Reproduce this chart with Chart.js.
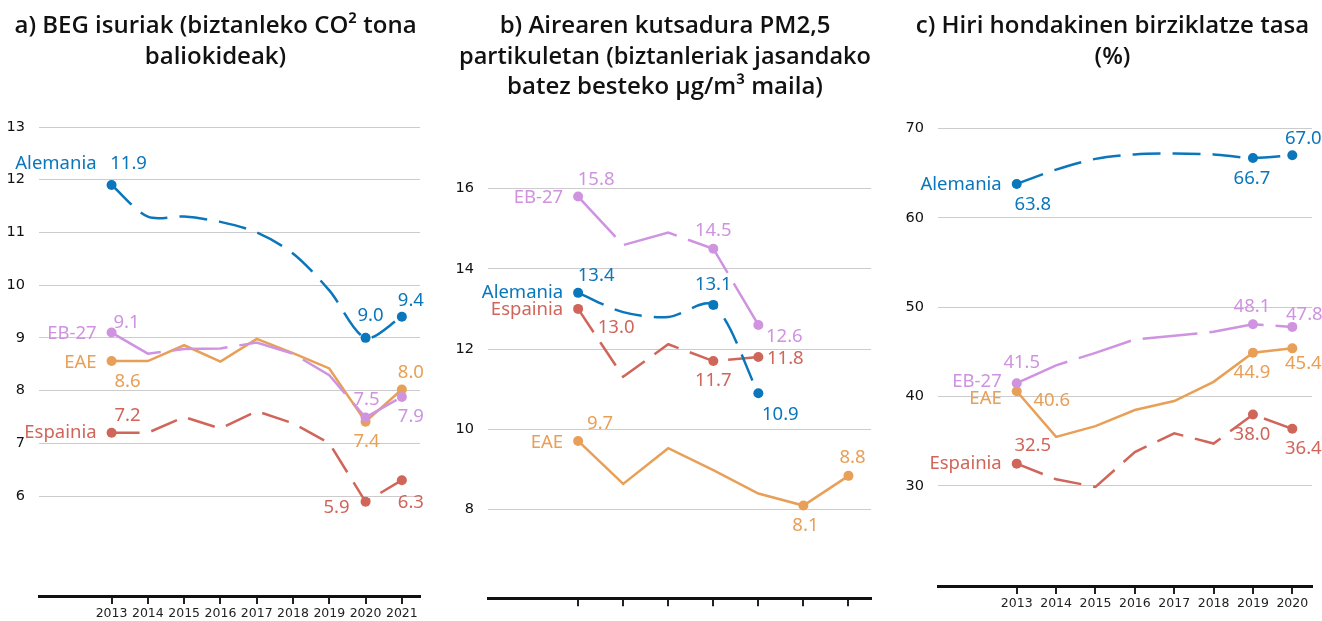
<!DOCTYPE html>
<html>
<head>
<meta charset="utf-8">
<script src="https://cdn.jsdelivr.net/npm/chart.js@4.4.1/dist/chart.umd.min.js"></script>
<style>
  body { margin: 0; background: #fff; width: 1322px; height: 621px; position: relative; overflow: hidden; }
  canvas { position: absolute; top: 0; }
</style>
</head>
<body>
<canvas id="chartA" width="440" height="621" style="left:0px"></canvas>
<canvas id="chartB" width="445" height="621" style="left:440px"></canvas>
<canvas id="chartC" width="437" height="621" style="left:885px"></canvas>
<script>
// Datuak: a) BEG isuriak
const yearsA = [2013, 2014, 2015, 2016, 2017, 2018, 2019, 2020, 2021];
const alemaniaA = [11.9, 11.3, 11.3, 11.2, 11.0, 10.6, 9.9, 9.0, 9.4];
const eb27A = [9.1, 8.7, 8.79, 8.8, 8.91, 8.7, 8.29, 7.49, 7.88];
const eaeA = [8.56, 8.56, 8.86, 8.55, 8.98, 8.71, 8.42, 7.41, 8.02];
const espainiaA = [7.2, 7.2, 7.5, 7.28, 7.61, 7.38, 7.0, 5.89, 6.3];
const yTicksA = [6, 7, 8, 9, 10, 11, 12, 13];

// b) PM2,5
const yearsB = [2013, 2014, 2015, 2016, 2017, 2018, 2019];
const alemaniaB = [13.4, 12.92, 12.8, 13.1, 10.9];
const eb27B = [15.8, 14.59, 14.9, 14.5, 12.6];
const eaeB = [9.71, 8.64, 9.53, 8.98, 8.4, 8.1, 8.84];
const espainiaB = [13.0, 11.31, 12.12, 11.7, 11.8];
const yTicksB = [8, 10, 12, 14, 16];

// c) birziklatze tasa
const yearsC = [2013, 2014, 2015, 2016, 2017, 2018, 2019, 2020];
const alemaniaC = [63.8, 65.4, 66.6, 67.1, 67.2, 67.1, 66.7, 67.0];
const eb27C = [41.5, 43.5, 44.9, 46.4, 46.8, 47.25, 48.1, 47.8];
const eaeC = [40.6, 35.5, 36.7, 38.5, 39.5, 41.65, 44.9, 45.4];
const espainiaC = [32.5, 30.75, 29.9, 33.8, 35.9, 34.75, 38.0, 36.4];
const yTicksC = [30, 40, 50, 60, 70];

const titleA = ['a) BEG isuriak (biztanleko CO² tona', 'baliokideak)'];
const titleB = ['b) Airearen kutsadura PM2,5', 'partikuletan (biztanleriak jasandako', 'batez besteko µg/m³ maila)'];
const titleC = ['c) Hiri hondakinen birziklatze tasa', '(%)'];

const colors = {
  'Alemania': '#0a76bb',
  'EB-27': '#cf93e0',
  'EAE': '#e89f57',
  'Espainia': '#d0655a'
};
const dashes = {
  'Alemania': [28, 12],
  'EB-27': [55, 12],
  'EAE': [],
  'Espainia': [28, 12]
};

// etiketen kokapena (izena: dy; balioak: lehen puntua eta azken biak [dx, dy])
const placeA = {
  'Alemania': { name: -22, val: [[17, -22], [5, -23], [9, -17]] },
  'EB-27': { name: 0, val: [[15, -11], [1, -19], [9, 19]] },
  'EAE': { name: 0, val: [[16, 19], [1, 19], [9, -18]] },
  'Espainia': { name: -1, val: [[16, -18], [-29, 5], [9, 21]] }
};
const placeB = {
  'Alemania': { name: -1, val: [[18, -18], [0, -21], [22, 20]] },
  'EB-27': { name: 0, val: [[18, -18], [0, -19], [26, 11]] },
  'EAE': { name: 1, val: [[22, -18], [2, 19], [4, -19]] },
  'Espainia': { name: 0, val: [[38, 18], [0, 18], [27, 0]] }
};
const placeC = {
  'Alemania': { name: 0, val: [[16, 20], [-1, 20], [11, -18]] },
  'EB-27': { name: -3, val: [[5, -22], [-1, -19], [12, -13]] },
  'EAE': { name: 6, val: [[35, 8], [-1, 19], [11, 14]] },
  'Espainia': { name: -1, val: [[16, -19], [-1, 19], [11, 19]] }
};

// serie-izenak eta balioak marrazteko plugina
const seriesLabels = {
  id: 'seriesLabels',
  afterLayout(chart) {
    // y ardatzeko etiketak ez moztu ardatzaren kutxan
    chart.scales.y._computeLabelArea = () => undefined;
  },
  afterDatasetsDraw(chart) {
    const ctx = chart.ctx;
    const place = chart.options.plugins.seriesLabels.place;
    chart.data.datasets.forEach((ds, i) => {
      const pts = chart.getDatasetMeta(i).data;
      const p = place[ds.label];
      const n = pts.length;
      ctx.save();
      ctx.font = '18.5px "Noto Sans"';
      ctx.fillStyle = ds.borderColor;
      ctx.textBaseline = 'alphabetic';
      ctx.textAlign = 'right';
      ctx.fillText(ds.label, pts[0].x - 15, pts[0].y + p.name + 6.5);
      ctx.textAlign = 'center';
      [0, n - 2, n - 1].forEach((k, j) => {
        const txt = ds.data[k].y.toFixed(1);
        ctx.fillText(txt, pts[k].x + p.val[j][0], pts[k].y + p.val[j][1] + 6.5);
      });
      ctx.restore();
    });
  }
};

function makeSet(label, years, values) {
  return {
    label: label,
    data: values.map((v, i) => ({ x: years[i], y: v })),
    borderColor: colors[label],
    backgroundColor: colors[label],
    borderWidth: 2.5,
    borderDash: dashes[label],
    tension: label === 'Alemania' ? 0.3 : 0,
    pointRadius: (c) => {
      const n = c.dataset.data.length;
      return (c.dataIndex === 0 || c.dataIndex >= n - 2) ? 5 : 0;
    },
    pointHoverRadius: 0,
    pointBorderWidth: 0,
    pointBackgroundColor: colors[label]
  };
}

function makeChart(id, cfg) {
  return new Chart(document.getElementById(id), {
    type: 'line',
    data: {
      datasets: [
        makeSet('Alemania', cfg.years, cfg.alemania),
        makeSet('EB-27', cfg.years, cfg.eb27),
        makeSet('EAE', cfg.years, cfg.eae),
        makeSet('Espainia', cfg.years, cfg.espainia)
      ]
    },
    options: {
      responsive: false,
      animation: false,
      layout: { padding: { left: cfg.padL, right: cfg.padR, top: 0, bottom: 0 } },
      plugins: {
        legend: { display: false },
        tooltip: { enabled: false },
        title: {
          display: true,
          text: cfg.title,
          color: '#111',
          font: { family: 'Open Sans', size: 24, weight: '600', lineHeight: 1.27 },
          padding: { top: 11, bottom: cfg.titleGap }
        },
        seriesLabels: { place: cfg.place }
      },
      scales: {
        x: {
          type: 'linear',
          min: cfg.years[0] - 2,
          max: cfg.years[cfg.years.length - 1] + 0.5,
          afterBuildTicks: (s) => { s.ticks = cfg.years.map(v => ({ value: v })); },
          afterFit: (s) => { s.height = cfg.axisH; },
          grid: { drawOnChartArea: false, drawTicks: true, tickLength: 8, color: '#222', lineWidth: 2 },
          border: { display: true, color: '#111', width: 3 },
          ticks: {
            callback: (v) => cfg.showYears ? String(v) : '',
            font: { family: 'DejaVu Sans', size: 12.5 },
            color: '#222',
            padding: 2,
            maxRotation: 0,
            autoSkip: false
          }
        },
        y: {
          min: cfg.yMin,
          max: cfg.yMax,
          afterBuildTicks: (s) => { s.ticks = cfg.yTicks.map(v => ({ value: v })); },
          afterFit: (s) => { s.width = cfg.yAxisW; },
          grid: { color: '#cccccc', lineWidth: 1, drawTicks: false },
          border: { display: false },
          ticks: { font: { family: 'DejaVu Sans', size: 14.5 }, color: '#111', padding: 14 }
        }
      }
    },
    plugins: [seriesLabels]
  });
}

makeChart('chartA', {
  years: yearsA, alemania: alemaniaA, eb27: eb27A, eae: eaeA, espainia: espainiaA,
  yTicks: yTicksA, yMin: 4.103, yMax: 13, title: titleA, titleGap: 55.04,
  padL: 11, padR: 20, yAxisW: 28, axisH: 25, showYears: true, place: placeA
});
makeChart('chartB', {
  years: yearsB, alemania: alemaniaB, eb27: eb27B, eae: eaeB, espainia: espainiaB,
  yTicks: yTicksB, yMin: 5.789, yMax: 16, title: titleB, titleGap: 86.06,
  padL: 19, padR: 14, yAxisW: 29, axisH: 10, showYears: false, place: placeB
});
makeChart('chartC', {
  years: yearsC, alemania: alemaniaC, eb27: eb27C, eae: eaeC, espainia: espainiaC,
  yTicks: yTicksC, yMin: 18.81, yMax: 70, title: titleC, titleGap: 56.54,
  padL: 28, padR: 10, yAxisW: 25, axisH: 35, showYears: true, place: placeC
});
</script>
</body>
</html>
